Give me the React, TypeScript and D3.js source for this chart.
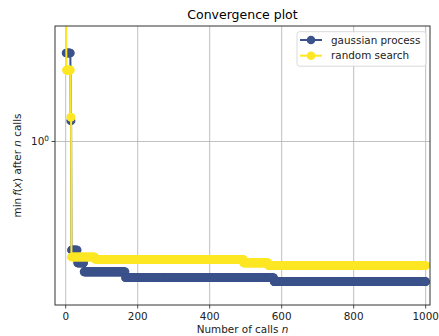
import React from 'react';
import * as d3 from 'd3';

// calls at which the running minimum changed, and the new minimum
const nCalls = 1000;
const gpChangeCalls = [1, 14, 16, 33, 51, 166, 579];
const gpChangeMins = [2.26, 1.21, 0.368, 0.327, 0.301, 0.285, 0.275];
const rsChangeCalls = [1, 2, 14, 16, 82, 494, 563];
const rsChangeMins = [5.0, 1.93, 1.25, 0.345, 0.338, 0.327, 0.319];
const xTicks = [0, 200, 400, 600, 800, 1000];
const yTicks = [1];

const seriesNames = ['gaussian process', 'random search'];
const colors = ['#3b528b', '#fde725'];

// expand change points into the min value after every call
function runningMin(changeCalls: number[], changeMins: number[]) {
  const out: { n: number; v: number }[] = [];
  let k = 0;
  for (let n = 1; n <= nCalls; n++) {
    while (k + 1 < changeCalls.length && changeCalls[k + 1] <= n) k++;
    out.push({ n, v: changeMins[k] });
  }
  return out;
}

const W = 439;
const H = 336;
const margin = { top: 26, right: 9, bottom: 31, left: 55 };

export default function App() {
  const iw = W - margin.left - margin.right;
  const ih = H - margin.top - margin.bottom;

  const x = d3.scaleLinear().domain([-29.7, 1012]).range([0, iw]);
  const y = d3.scaleLog().domain([0.2218, 2.897]).range([ih, 0]);

  const series = [
    runningMin(gpChangeCalls, gpChangeMins),
    runningMin(rsChangeCalls, rsChangeMins),
  ];

  const line = d3
    .line<{ n: number; v: number }>()
    .x(d => x(d.n))
    .y(d => y(d.v));

  const font = '"DejaVu Sans", sans-serif';

  return (
    <svg
      width={W}
      height={H}
      style={{ position: 'absolute', left: 0, top: 0, display: 'block', background: '#fff' }}
      fontFamily={font}
    >
      <defs>
        <clipPath id="plotArea">
          <rect x={0} y={0} width={iw} height={ih} />
        </clipPath>
      </defs>
      <text x={margin.left + iw / 2} y={19} textAnchor="middle" fontSize={12.5}>
        Convergence plot
      </text>
      <g transform={`translate(${margin.left},${margin.top})`}>
        {/* grid */}
        {xTicks.map(t => (
          <line key={'gx' + t} x1={x(t)} x2={x(t)} y1={0} y2={ih} stroke="#b0b0b0" strokeWidth={0.8} />
        ))}
        {yTicks.map(t => (
          <line key={'gy' + t} x1={0} x2={iw} y1={y(t)} y2={y(t)} stroke="#b0b0b0" strokeWidth={0.8} />
        ))}

        {/* series */}
        <g clipPath="url(#plotArea)">
          {series.map((s, i) => (
            <g key={i}>
              <path d={line(s) || ''} fill="none" stroke={colors[i]} strokeWidth={2} />
              {s.map(d => (
                <circle key={d.n} cx={x(d.n)} cy={y(d.v)} r={4.3} fill={colors[i]} />
              ))}
            </g>
          ))}
        </g>

        {/* spines */}
        <rect x={0} y={0} width={iw} height={ih} fill="none" stroke="#333" strokeWidth={1} />

        {/* x axis */}
        {xTicks.map(t => (
          <g key={'xt' + t} transform={`translate(${x(t)},${ih})`}>
            <line y1={0} y2={3.5} stroke="#222" strokeWidth={0.8} />
            <text y={15} textAnchor="middle" fontSize={10.4} fill="#222">
              {t}
            </text>
          </g>
        ))}
        <text x={iw / 2} y={ih + 28} textAnchor="middle" fontSize={10.4} fill="#222">
          Number of calls <tspan fontStyle="italic">n</tspan>
        </text>

        {/* y axis */}
        {yTicks.map(t => (
          <g key={'yt' + t} transform={`translate(0,${y(t)})`}>
            <line x1={-3.5} x2={0} stroke="#222" strokeWidth={0.8} />
            <text x={-6} y={3.5} textAnchor="end" fontSize={10.4} fill="#222">
              10<tspan dy={-4} fontSize={7.3}>0</tspan>
            </text>
          </g>
        ))}
        <text
          transform={`translate(${-34},${ih / 2}) rotate(-90)`}
          textAnchor="middle"
          fontSize={10.4}
          fill="#222"
        >
          min<tspan dx={2} fontStyle="italic">f</tspan>(<tspan fontStyle="italic">x</tspan>) after{' '}
          <tspan fontStyle="italic">n</tspan> calls
        </text>

        {/* legend */}
        <g transform={`translate(${297 - margin.left},${31.7 - margin.top})`}>
          <rect x={0} y={0} width={129} height={34.5} rx={2.5} fill="#fff" fillOpacity={0.8} stroke="#d0d0d0" strokeWidth={0.8} />
          {seriesNames.map((name, i) => (
            <g key={name} transform={`translate(0,${8.3 + i * 15.7})`}>
              <line x1={3} x2={25} y1={0} y2={0} stroke={colors[i]} strokeWidth={2} />
              <circle cx={14} cy={0} r={4.3} fill={colors[i]} />
              <text x={34} y={3.6} fontSize={10.4} fill="#222">
                {name}
              </text>
            </g>
          ))}
        </g>
      </g>
    </svg>
  );
}
